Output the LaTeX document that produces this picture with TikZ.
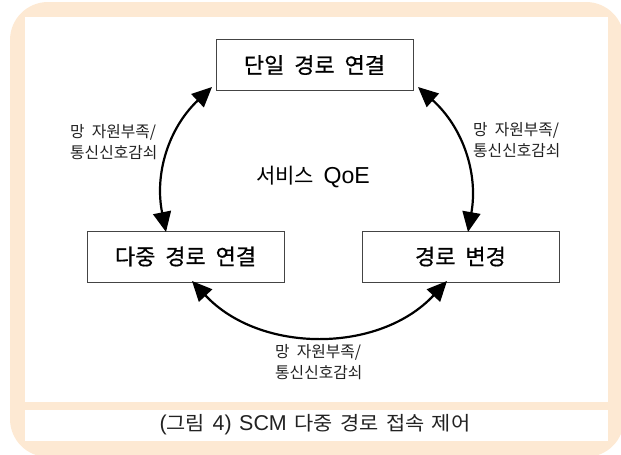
\documentclass[tikz,border=0pt]{standalone}
\usepackage{fontspec}
\setmainfont{Noto Sans CJK KR}[WordSpace=2]
\newfontfamily\boxfont{Noto Sans CJK KR}[WordSpace=2, FakeBold=0.6]
\newfontfamily\capfont{Noto Sans CJK KR}[FakeStretch=1.07, WordSpace=1.6]
\newfontfamily\lat{Liberation Sans}[Scale=1.1]
\usetikzlibrary{arrows.meta}
\definecolor{framepeach}{HTML}{FDE9D3}
\definecolor{boxline}{HTML}{444444}
\definecolor{labelgray}{HTML}{222222}
\begin{document}
\begin{tikzpicture}[x=1pt,y=-1pt,
  stagebox/.style={draw=boxline, line width=1pt, fill=white,
    minimum width=197pt, minimum height=51pt, inner sep=0pt,
    font=\boxfont\fontsize{22}{26}\selectfont},
  cause/.style={text=labelgray, align=left, inner sep=0pt,
    font=\fontsize{15.8}{21}\selectfont},
  flow/.style={line width=2.2pt,
    {Triangle[length=20pt,width=18pt]}-{Triangle[length=20pt,width=18pt]}},
]
\useasboundingbox (0,0) rectangle (621,455);

% peach frame with white drawing area and caption strip
\fill[framepeach, rounded corners=38pt] (10,2) rectangle (624,457);
\fill[white] (25,17) rectangle (608,402);
\fill[white] (25,410) rectangle (608,441);

% connection states
\node[stagebox] (single) at (314.5,65)  {단일 경로 연결};
\node[stagebox] (multi)  at (185.5,256.5) {다중 경로 연결};
\node[stagebox] (change) at (460.5,256.5) {경로 변경};

% arrow end points next to the boxes
\coordinate (singleL) at (212,87);
\coordinate (singleR) at (418,87);
\coordinate (multiT)  at (166,232);
\coordinate (multiB)  at (192,281);
\coordinate (changeT) at (468,232);
\coordinate (changeB) at (447,281);

% transitions
\draw[flow] (singleL) to[bend right=29] (multiT);
\draw[flow] (singleR) to[bend left=29] (changeT);
\draw[flow] (multiB) to[bend right=47] (changeB);

% transition causes
\node[cause, anchor=west] (causeL) at (70,142.5) {망 자원부족/\\통신신호감쇠};
\node[cause, anchor=west] (causeR) at (473,140) {망 자원부족/\\통신신호감쇠};
\node[cause, anchor=west] (causeB) at (275,362) {망 자원부족/\\통신신호감쇠};

\node[font=\fontsize{21}{24}\selectfont] (qoe) at (313,177) {서비스 {\lat QoE}};

% caption
\node[text=labelgray, font=\capfont\fontsize{19.5}{22}\selectfont] (caption) at (315,425)
  {{\lat(}그림 {\lat 4)} {\lat SCM} 다중 경로 접속 제어};
\end{tikzpicture}
\end{document}
